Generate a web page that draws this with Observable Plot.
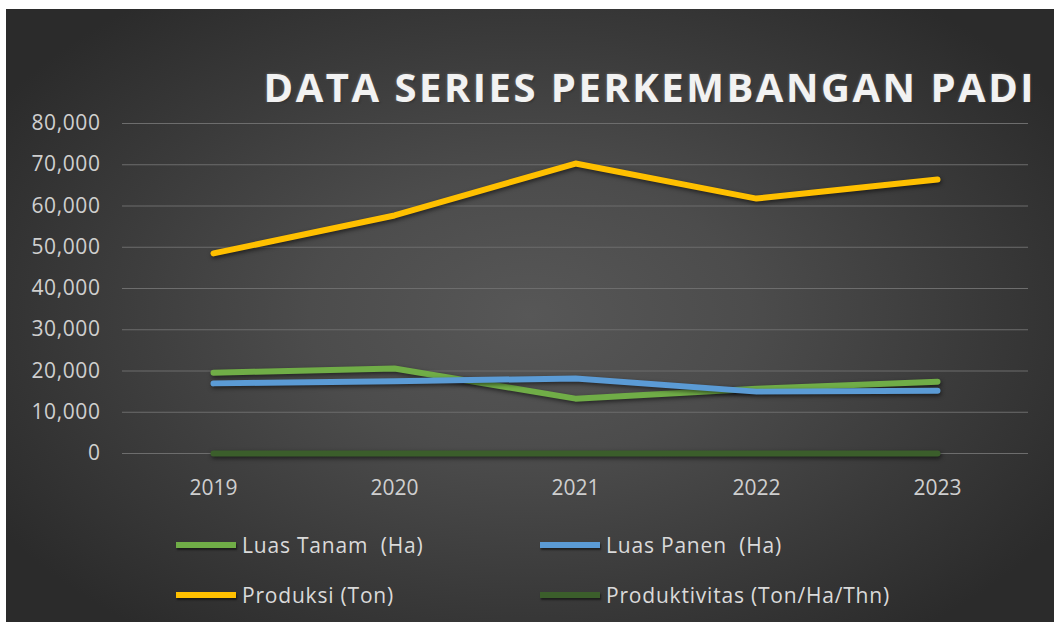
<!DOCTYPE html>
<html>
<head>
<meta charset="utf-8">
<script src="https://cdn.jsdelivr.net/npm/d3@7"></script>
<script src="https://cdn.jsdelivr.net/npm/@observablehq/plot@0.6"></script>
<style>
  html, body { margin: 0; padding: 0; background: #ffffff; }
  body { width: 1054px; height: 622px; overflow: hidden; position: relative; font-family: "Open Sans", sans-serif; }
  #chart {
    position: absolute; left: 6px; top: 9px; width: 1048px; height: 613px; overflow: hidden;
    background: radial-gradient(ellipse 60% 65% at 50% 50%, #575757 0%, #4c4c4c 35%, #3a3a3a 70%, #2b2b2b 100%);
  }
  #title {
    position: absolute; right: 18px; top: 58px; font-size: 40px; line-height: 40px; font-weight: 700;
    letter-spacing: 2.5px; color: #f2f2f2; white-space: nowrap;
    text-shadow: 0 0 3px rgba(255,255,255,0.35), 1px 1px 2px rgba(0,0,0,0.6);
  }
  #plot { position: absolute; left: 0; top: 91px; }
  #plot svg g[aria-label="line"] path { filter: drop-shadow(1px 2px 2px rgba(0,0,0,0.55)); }
  #plot svg g[aria-label="y-axis tick label"] text { letter-spacing: 0.6px; }
  .lg { position: absolute; display: flex; align-items: center; height: 26px; color: #dadada; font-size: 21px; letter-spacing: 0.8px; white-space: pre; }
  .sw { width: 60px; height: 6px; margin-right: 6px; box-shadow: 1px 2px 2px rgba(0,0,0,0.5); }
</style>
</head>
<body>
<div id="chart">
  <div id="title">DATA SERIES PERKEMBANGAN PADI</div>
  <div id="plot"></div>
  <div id="legend"></div>
</div>
<script>
// ---- data ----
const years = ["2019", "2020", "2021", "2022", "2023"];
const seriesNames = ["Luas Tanam  (Ha)", "Luas Panen  (Ha)", "Produksi (Ton)", "Produktivitas (Ton/Ha/Thn)"];
const seriesColors = ["#70ad47", "#5b9bd5", "#ffc000", "#3b5e2b"];
const luasTanam = [19600, 20600, 13300, 15700, 17400];
const luasPanen = [17000, 17500, 18200, 15000, 15200];
const produksi = [48500, 57700, 70300, 61800, 66400];
const produktivitas = [5.2, 5.4, 5.6, 5.3, 5.5];
const yTicks = [0, 10000, 20000, 30000, 40000, 50000, 60000, 70000, 80000];

const seriesValues = [luasTanam, luasPanen, produksi, produktivitas];
const rows = [];
seriesNames.forEach((name, i) => {
  years.forEach((yr, j) => rows.push({series: name, year: yr, value: seriesValues[i][j]}));
});
// draw order: productivity first (near zero), then Tanam, Panen, Produksi
const drawOrder = [3, 0, 1, 2];

const marks = [
  Plot.ruleY(yTicks, {stroke: "#6d6d6d", strokeWidth: 1.2}),
  ...drawOrder.map(i => Plot.line(rows.filter(r => r.series === seriesNames[i]), {
    x: "year", y: "value", stroke: seriesColors[i], strokeWidth: 6,
    strokeLinecap: "round", strokeLinejoin: "round"
  }))
];

const chart = Plot.plot({
  width: 1048,
  height: 410,
  marginTop: 23,
  marginBottom: 57,
  marginLeft: 116,
  marginRight: 26,
  style: {background: "transparent", color: "#cfcfcf", fontSize: "21px", fontFamily: "Open Sans, sans-serif"},
  x: {type: "point", domain: years, padding: 0.5, label: null, tickSize: 0, tickPadding: 27},
  y: {domain: [0, 80000], ticks: yTicks, tickFormat: d3.format(","), label: null, tickSize: 0, tickPadding: 22},
  marks
});
document.getElementById("plot").appendChild(chart);

// ---- legend ----
const legendPos = [
  {left: 170, top: 523}, {left: 534, top: 523},
  {left: 170, top: 573}, {left: 534, top: 573}
];
const legend = document.getElementById("legend");
seriesNames.forEach((name, i) => {
  const item = document.createElement("div");
  item.className = "lg";
  item.style.left = legendPos[i].left + "px";
  item.style.top = legendPos[i].top + "px";
  const sw = document.createElement("div");
  sw.className = "sw";
  sw.style.background = seriesColors[i];
  const tx = document.createElement("span");
  tx.textContent = name;
  item.appendChild(sw);
  item.appendChild(tx);
  legend.appendChild(item);
});
</script>
</body>
</html>
